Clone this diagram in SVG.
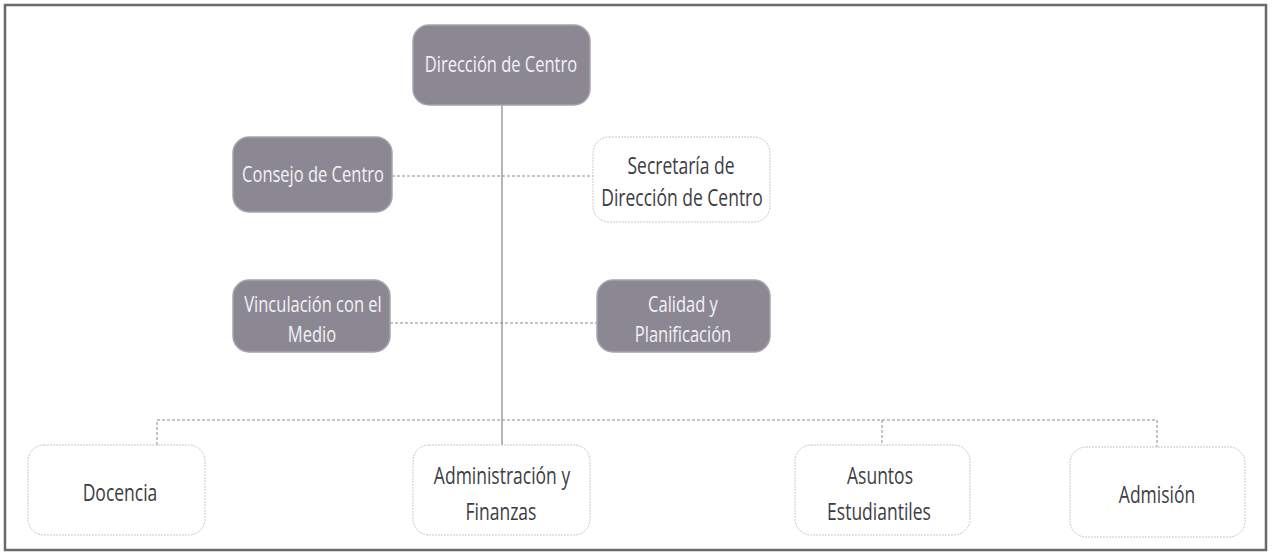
<svg xmlns="http://www.w3.org/2000/svg" width="1274" height="553" viewBox="0 0 1274 553">
<style>
.dark rect{fill:#8b8894;stroke:#a6a4ad;stroke-width:1.5}
.light rect{fill:#ffffff;stroke:#c8c8c8;stroke-width:1;stroke-dasharray:2 1}
text{font-family:"Open Sans","Liberation Sans",sans-serif;text-anchor:middle}
.dark text{fill:#f4f2f6;font-size:16.5px}
.light text{fill:#3c3c44;font-size:17.5px}
.solid{stroke:#6e6e6e;stroke-width:1;fill:none}
.dash{stroke:#8a8a8a;stroke-width:1;stroke-dasharray:3 2;fill:none}
</style>
<rect x="0" y="0" width="1274" height="553" fill="#ffffff"/>
<rect x="5" y="5" width="1261" height="545" fill="none" stroke="#6a6a6a" stroke-width="2.5"/>
<g id="connectors">
<line class="solid" x1="502" y1="105" x2="502" y2="445"/>
<line class="dash" x1="392" y1="176" x2="593" y2="176"/>
<line class="dash" x1="390" y1="323" x2="597" y2="323"/>
<polyline class="dash" points="157,445 157,420 1157,420 1157,447"/>
<line class="dash" x1="882" y1="420" x2="882" y2="445"/>
</g>
<g id="direccion" class="dark"><rect x="413" y="25" width="177" height="80" rx="16"/><text transform="translate(501,72) scale(1,1.3)">Dirección de Centro</text></g>
<g id="consejo" class="dark"><rect x="233" y="137" width="159" height="75" rx="16"/><text transform="translate(313,182) scale(1,1.3)">Consejo de Centro</text></g>
<g id="secretaria" class="light"><rect x="593" y="137" width="177" height="85" rx="16"/><text transform="translate(681,174) scale(1,1.3)">Secretaría de</text><text transform="translate(682,206) scale(1,1.3)">Dirección de Centro</text></g>
<g id="vinculacion" class="dark"><rect x="233" y="280" width="157" height="72" rx="16"/><text transform="translate(313,312) scale(1,1.3)">Vinculación con el</text><text transform="translate(312,342) scale(1,1.3)">Medio</text></g>
<g id="calidad" class="dark"><rect x="597" y="280" width="173" height="72" rx="16"/><text transform="translate(683,312) scale(1,1.3)">Calidad y</text><text transform="translate(683,342) scale(1,1.3)">Planificación</text></g>
<g id="docencia" class="light"><rect x="28" y="445" width="177" height="90" rx="16"/><text transform="translate(120,501) scale(1,1.3)">Docencia</text></g>
<g id="administracion" class="light"><rect x="413" y="445" width="177" height="90" rx="16"/><text transform="translate(502,484) scale(1,1.3)">Administración y</text><text transform="translate(501,520) scale(1,1.3)">Finanzas</text></g>
<g id="asuntos" class="light"><rect x="795" y="445" width="175" height="90" rx="16"/><text transform="translate(880,484) scale(1,1.3)">Asuntos</text><text transform="translate(879,520) scale(1,1.3)">Estudiantiles</text></g>
<g id="admision" class="light"><rect x="1070" y="447" width="175" height="90" rx="16"/><text transform="translate(1157,503) scale(1,1.3)">Admisión</text></g>
</svg>
